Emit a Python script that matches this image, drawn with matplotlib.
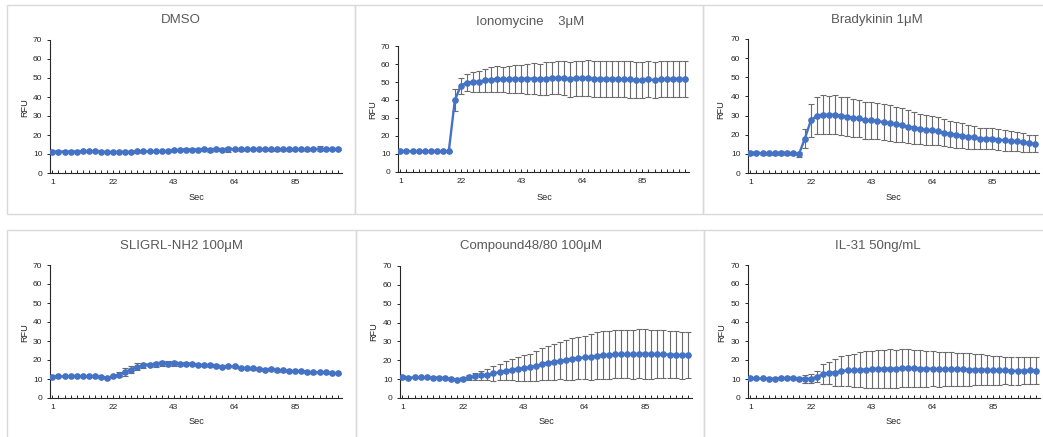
import numpy as np
import matplotlib
matplotlib.use("Agg")
import matplotlib.pyplot as plt
from matplotlib.patches import Rectangle

plt.rcParams['font.family'] = ['Liberation Sans', 'DejaVu Sans']

# tick labels on the time axis (every 10th reading)
sec_labels = ["1", "22", "43", "64", "85"]

dmso = [11.3, 11.3, 11.3, 11.3, 11.3, 11.4, 11.4, 11.4, 11.3, 11.0, 11.1, 11.0, 11.2, 11.1, 11.4, 11.5, 11.4, 11.5,
        11.5, 11.5, 12.0, 12.1, 12.3, 12.1, 12.3, 12.4, 12.3, 12.4, 12.3, 12.5, 12.5, 12.5, 12.4, 12.5, 12.5, 12.4,
        12.4, 12.5, 12.5, 12.5, 12.5, 12.6, 12.5, 12.6, 12.8, 12.6, 12.6, 12.6]
dmso_err = [0.5, 0.3, 0.3, 0.3, 0.3, 0.3, 0.4, 0.6, 0.4, 0.5, 0.6, 0.4, 0.4, 0.5, 0.8, 0.3, 0.4, 0.3,
            0.4, 0.3, 0.5, 0.4, 0.6, 0.7, 0.9, 0.6, 1.0, 0.6, 0.8, 1.2, 0.6, 0.9, 0.5, 0.4, 0.6, 0.5,
            0.6, 0.9, 0.4, 0.7, 0.5, 0.6, 0.8, 0.6, 1.3, 0.5, 0.5, 0.5]

iono = [11.5, 11.7, 11.4, 11.6, 11.4, 11.6, 11.6, 11.5, 11.6, 40.0, 48.0, 49.7, 50.0, 50.2, 51.0, 51.3, 51.7, 51.4,
        51.6, 51.8, 51.7, 51.9, 51.9, 51.6, 51.9, 52.2, 52.3, 52.1, 51.4, 52.0, 52.1, 52.2, 51.7, 51.8, 51.6, 51.8,
        51.6, 51.4, 51.4, 50.9, 51.3, 51.5, 51.0, 51.5, 51.6, 51.7, 51.8, 51.6]
iono_err = [0.3, 0.3, 0.3, 0.3, 0.3, 0.3, 0.3, 0.3, 0.3, 6.0, 4.5, 4.8, 5.5, 5.8, 6.5, 7.0, 7.0, 7.0,
            7.5, 7.7, 8.0, 8.3, 8.5, 8.6, 9.0, 9.0, 9.2, 9.4, 9.5, 9.6, 9.7, 9.8, 9.8, 9.9, 9.9, 10.0,
            10.0, 10.0, 10.1, 10.0, 10.0, 10.0, 9.9, 9.9, 9.9, 9.9, 9.9, 9.8]

brady = [10.3, 10.5, 10.2, 10.2, 10.2, 10.4, 10.2, 10.2, 9.7, 18.0, 27.5, 30.0, 30.5, 30.3, 30.5, 29.8, 29.5, 28.8,
         28.5, 27.5, 27.5, 27.2, 26.5, 26.0, 25.5, 25.0, 24.2, 23.7, 23.0, 22.5, 22.3, 21.7, 21.0, 20.5, 20.0, 19.5,
         19.0, 18.7, 18.0, 18.0, 18.0, 17.5, 17.0, 16.7, 16.5, 16.0, 15.5, 15.3]
brady_err = [0.8, 0.8, 0.8, 0.9, 0.9, 1.0, 1.0, 1.0, 1.3, 5.0, 8.5, 9.5, 10.0, 10.0, 10.0, 10.0, 10.0, 9.8,
             9.7, 9.7, 9.7, 9.6, 9.5, 9.3, 9.2, 9.0, 8.5, 8.3, 8.0, 7.7, 7.5, 7.3, 7.0, 6.8, 6.8, 6.5,
             6.3, 6.0, 5.7, 5.7, 5.7, 5.5, 5.3, 5.2, 5.0, 4.8, 4.5, 4.3]

sligrl = [11.3, 11.4, 11.4, 11.4, 11.6, 11.4, 11.4, 11.6, 10.9, 10.6, 11.4, 12.3, 13.8, 15.0, 16.5, 17.2, 17.6, 17.8,
          18.2, 18.1, 18.3, 18.0, 18.0, 17.9, 17.3, 17.5, 17.2, 17.0, 16.3, 16.7, 16.6, 15.7, 15.8, 15.7, 15.2, 15.0,
          15.3, 14.5, 14.5, 14.2, 14.2, 14.3, 13.8, 13.5, 13.5, 13.6, 13.0, 13.0]
sligrl_err = [0.6, 0.4, 0.4, 0.4, 0.5, 0.4, 0.4, 0.5, 0.5, 0.6, 0.6, 1.5, 2.0, 1.8, 1.8, 1.3, 1.0, 1.3,
              1.3, 1.5, 1.2, 1.0, 0.8, 0.5, 0.5, 0.5, 0.8, 0.8, 0.6, 0.6, 0.8, 0.6, 0.6, 0.7, 0.7, 0.6,
              0.5, 0.8, 0.8, 0.6, 0.6, 0.5, 0.6, 0.8, 0.6, 0.5, 0.5, 0.4]

c4880 = [11.2, 10.8, 10.9, 10.9, 10.9, 10.8, 10.8, 10.6, 10.2, 9.8, 10.3, 10.9, 11.5, 12.0, 12.3, 13.0, 13.7, 14.5,
         15.0, 15.5, 15.8, 16.2, 16.8, 18.0, 18.7, 19.2, 19.7, 20.2, 20.8, 21.2, 21.5, 21.7, 22.5, 22.8, 22.8, 23.1,
         23.2, 23.2, 23.3, 23.4, 23.5, 23.3, 23.2, 23.2, 23.0, 23.0, 22.6, 23.0]
c4880_err = [1.0, 0.5, 0.4, 0.4, 0.4, 0.4, 0.4, 0.4, 0.5, 0.5, 0.8, 1.5, 2.0, 2.5, 3.0, 3.8, 4.3, 5.0,
             5.5, 6.5, 6.8, 7.2, 8.0, 8.5, 9.0, 9.5, 9.8, 10.5, 11.0, 11.3, 11.5, 12.0, 12.3, 12.5, 12.5, 12.7,
             12.8, 12.8, 13.0, 13.0, 13.2, 13.0, 12.8, 12.6, 12.6, 12.5, 12.5, 12.2]

il31 = [10.4, 10.3, 10.4, 10.2, 10.2, 10.5, 10.5, 10.7, 10.2, 10.0, 10.2, 11.2, 12.5, 13.4, 13.4, 14.2, 14.5, 14.5,
        15.0, 15.0, 15.2, 15.4, 15.5, 15.5, 15.5, 15.6, 15.8, 15.6, 15.5, 15.5, 15.4, 15.2, 15.2, 15.2, 15.1, 15.1,
        15.0, 14.9, 15.0, 14.8, 14.5, 14.5, 14.5, 14.3, 14.3, 14.4, 14.5, 14.4]
il31_err = [0.4, 0.3, 0.3, 0.3, 0.3, 0.4, 0.4, 0.5, 0.6, 2.0, 2.3, 3.0, 5.3, 5.8, 7.0, 7.8, 8.2, 8.5,
            9.0, 9.5, 9.7, 10.0, 10.0, 10.2, 10.0, 10.0, 9.8, 9.8, 9.6, 9.5, 9.3, 9.2, 9.0, 9.0, 8.8, 8.6,
            8.5, 8.3, 8.2, 8.0, 7.6, 7.4, 7.3, 7.2, 7.2, 7.1, 7.0, 7.0]

titles = ["DMSO", "Ionomycine    3μM", "Bradykinin 1μM",
          "SLIGRL-NH2 100μM", "Compound48/80 100μM", "IL-31 50ng/mL"]
means = [dmso, iono, brady, sligrl, c4880, il31]
errs = [dmso_err, iono_err, brady_err, sligrl_err, c4880_err, il31_err]

W, H = 1043, 437
fig = plt.figure(figsize=(W / 100, H / 100), dpi=100)

# pixel layout: axes box (x0, x1, y_top, y_bottom), title (x, y), RFU x, Sec (x, y), frame
axes_px = [(50, 342, 40, 173), (398, 689, 46, 172), (748, 1039, 39, 173),
           (50, 342, 265, 398), (400, 692, 266, 398), (748, 1040, 265, 398)]
title_px = [(181, 20), (530, 22), (877, 20), (182, 246), (531, 246), (878, 246)]
rfu_px = [(25, 108), (373, 110), (721, 110), (25, 333), (374, 332), (722, 333)]
sec_px = [(196, 197), (544, 197), (893, 197), (196, 422), (546, 422), (893, 422)]
frames = [(7, 5, 355, 214), (355, 5, 703, 214), (703, 5, 1050, 214),
          (7, 230, 356, 445), (356, 230, 704, 445), (704, 230, 1050, 445)]

for (fx0, fy0, fx1, fy1) in frames:
    fig.patches.append(Rectangle((fx0 / W, 1 - fy1 / H), (fx1 - fx0) / W, (fy1 - fy0) / H,
                                 transform=fig.transFigure, fill=False,
                                 edgecolor='#d9d9d9', linewidth=1.0))

for k in range(6):
    x0, x1, yt, yb = axes_px[k]
    ax = fig.add_axes([x0 / W, 1 - yb / H, (x1 - x0) / W, (yb - yt) / H])
    y = np.array(means[k])
    e = np.array(errs[k])
    x = np.arange(len(y))
    ax.errorbar(x, y, yerr=e, fmt='none', ecolor='#6b6b6b', elinewidth=0.8,
                capsize=2.0, capthick=0.8, zorder=2)
    ax.plot(x, y, color='#4472C4', lw=1.7, marker='o', ms=3.8, zorder=3)

    ax.set_ylim(0, 70)
    ax.set_xlim(-0.4, len(y) - 0.3)
    ax.set_yticks(range(0, 71, 10))
    ax.set_xticks(range(0, 41, 10))
    ax.set_xticklabels(sec_labels)
    ax.set_xticks(x, minor=True)
    for s in ['top', 'right']:
        ax.spines[s].set_visible(False)
    for s in ['left', 'bottom']:
        ax.spines[s].set_color('#262626')
        ax.spines[s].set_linewidth(0.8)
    ax.tick_params(axis='y', direction='out', length=2.5, width=0.7, labelsize=6, pad=3, colors='#262626')
    ax.tick_params(axis='x', which='both', direction='in', length=2.5, width=0.7, labelsize=6, pad=4,
                   colors='#262626')
    ax.patch.set_alpha(0)

    tx, ty = title_px[k]
    fig.text(tx / W, 1 - ty / H, titles[k], ha='center', va='center', fontsize=9.5, color='#595959')
    rx, ry = rfu_px[k]
    fig.text(rx / W, 1 - ry / H, "RFU", rotation=90, ha='center', va='center', fontsize=6.6, color='#262626')
    sx, sy = sec_px[k]
    fig.text(sx / W, 1 - sy / H, "Sec", ha='center', va='center', fontsize=6.6, color='#262626')

fig.savefig("out.png", dpi=100)
